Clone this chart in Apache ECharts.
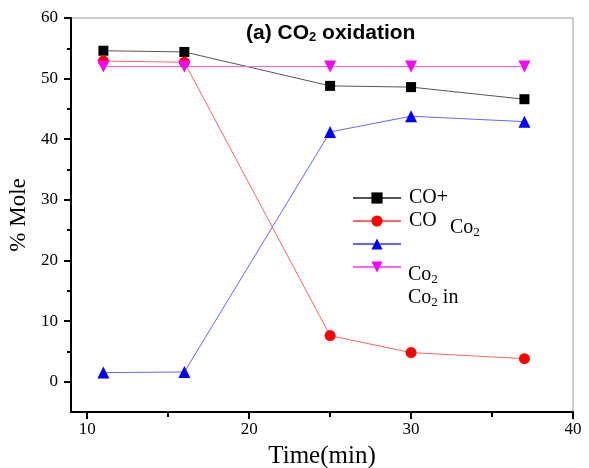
<!DOCTYPE html>
<html>
<head>
<meta charset="utf-8">
<script src="https://cdn.jsdelivr.net/npm/echarts@6/dist/echarts.min.js"></script>
<style>
  html, body { margin: 0; padding: 0; background: #fff; }
  #chart { width: 589px; height: 468px; }
</style>
</head>
<body>
<div id="chart"></div>
<script>
// Sampling times (min) and gas composition (% mole)
const times = [11, 16, 25, 30, 37];
const coPlus = [54.6, 54.4, 48.8, 48.6, 46.6];
const co = [52.9, 52.7, 7.6, 4.8, 3.8];
const co2 = [1.5, 1.6, 41.2, 43.8, 42.9];
const co2In = [52, 52, 52, 52, 52];

const xLabels = [10, 20, 30, 40];
const xMinorTicks = [15, 25, 35];
const yLabels = [0, 10, 20, 30, 40, 50, 60];
const yMinorTicks = [5, 15, 25, 35, 45, 55];

const serif = 'Liberation Serif';
const pairs = ys => times.map((t, i) => [t, ys[i]]);
const subRich = { s: { fontFamily: serif, fontSize: 13, verticalAlign: 'bottom', padding: [10, 0, 0, 0] } };

const chart = echarts.init(document.getElementById('chart'));

function mkSeries(name, data, lineColor, markColor, symbol, size) {
  return {
    name: name,
    type: 'line',
    data: pairs(data),
    symbol: symbol,
    symbolSize: size,
    showAllSymbol: true,
    animation: false,
    lineStyle: { color: lineColor, width: 1 },
    itemStyle: { color: markColor },
    emphasis: { disabled: true },
    xAxisIndex: 0,
    yAxisIndex: 0
  };
}

chart.setOption({
  animation: false,
  title: {
    text: '(a) CO{s|2} oxidation',
    left: 246,
    top: 22,
    padding: 0,
    textStyle: {
      fontFamily: 'Liberation Sans',
      fontWeight: 'bold',
      fontSize: 21,
      color: '#000',
      rich: {
        s: { fontFamily: 'Liberation Sans', fontWeight: 'bold', fontSize: 13, verticalAlign: 'bottom', padding: [9, 0, 0, 0] }
      }
    }
  },
  grid: {
    left: 71, right: 16, top: 18, bottom: 56,
    outerBoundsMode: 'none',
    containLabel: false,
    show: true, borderColor: '#9a9a9a', borderWidth: 1, backgroundColor: 'transparent'
  },
  legend: {
    orient: 'vertical',
    left: 352,
    top: 187,
    padding: 0,
    itemWidth: 48,
    itemHeight: 14,
    itemGap: 1,
    selectedMode: false,
    data: ['CO+', 'CO', 'Co2', 'Co2 in'],
    formatter: function (n) { return (n === 'CO+' || n === 'CO') ? n : ' '; },
    textStyle: { fontFamily: serif, fontSize: 20, color: '#000', lineHeight: 22, padding: [0, 0, 0, 3] }
  },
  xAxis: [{
    type: 'value', min: 9, max: 40,
    position: 'bottom',
    name: 'Time(min)',
    nameLocation: 'middle',
    nameGap: 32,
    nameTextStyle: { fontFamily: serif, fontSize: 25, color: '#000' },
    axisLine: { show: true, onZero: false, lineStyle: { color: '#000', width: 2 } },
    axisTick: { show: true, length: 7, customValues: xLabels, lineStyle: { color: '#000', width: 2 } },
    axisLabel: { customValues: xLabels, fontFamily: serif, fontSize: 17, color: '#000', margin: 9 },
    splitLine: { show: false }
  }, {
    type: 'value', min: 9, max: 40,
    position: 'bottom',
    axisLine: { show: false, onZero: false },
    axisTick: { show: true, length: 5, customValues: xMinorTicks, lineStyle: { color: '#000', width: 2 } },
    axisLabel: { show: false },
    splitLine: { show: false }
  }],
  yAxis: [{
    type: 'value', min: -5, max: 60,
    position: 'left',
    name: '% Mole',
    nameLocation: 'middle',
    nameGap: 36,
    nameRotate: 90,
    nameTextStyle: { fontFamily: serif, fontSize: 23, color: '#000' },
    axisLine: { show: true, onZero: false, lineStyle: { color: '#000', width: 2 } },
    axisTick: { show: true, length: 7, customValues: yLabels, lineStyle: { color: '#000', width: 2 } },
    axisLabel: { customValues: yLabels, fontFamily: serif, fontSize: 17, color: '#000', margin: 13 },
    splitLine: { show: false }
  }, {
    type: 'value', min: -5, max: 60,
    position: 'left',
    axisLine: { show: false, onZero: false },
    axisTick: { show: true, length: 4, customValues: yMinorTicks, lineStyle: { color: '#000', width: 2 } },
    axisLabel: { show: false },
    splitLine: { show: false }
  }],
  graphic: [
    {
      type: 'text', left: 450, top: 218,
      style: { text: 'Co{s|2}', fontFamily: serif, fontSize: 20, fill: '#000', rich: subRich }
    },
    {
      type: 'text', left: 408, top: 265,
      style: { text: 'Co{s|2}', fontFamily: serif, fontSize: 20, fill: '#000', rich: subRich }
    },
    {
      type: 'text', left: 408, top: 288,
      style: { text: 'Co{s|2} in', fontFamily: serif, fontSize: 20, fill: '#000', rich: subRich }
    }
  ],
  series: [
    mkSeries('CO+', coPlus, '#555555', '#000000', 'rect', 10),
    mkSeries('CO', co, '#ff6666', '#ff0000', 'circle', 11),
    mkSeries('Co2', co2, '#6666ff', '#0000ff', 'triangle', 12),
    Object.assign(mkSeries('Co2 in', co2In, '#ff66ff', '#ff00ff', 'triangle', 12), { symbolRotate: 180 })
  ]
});
</script>
</body>
</html>
